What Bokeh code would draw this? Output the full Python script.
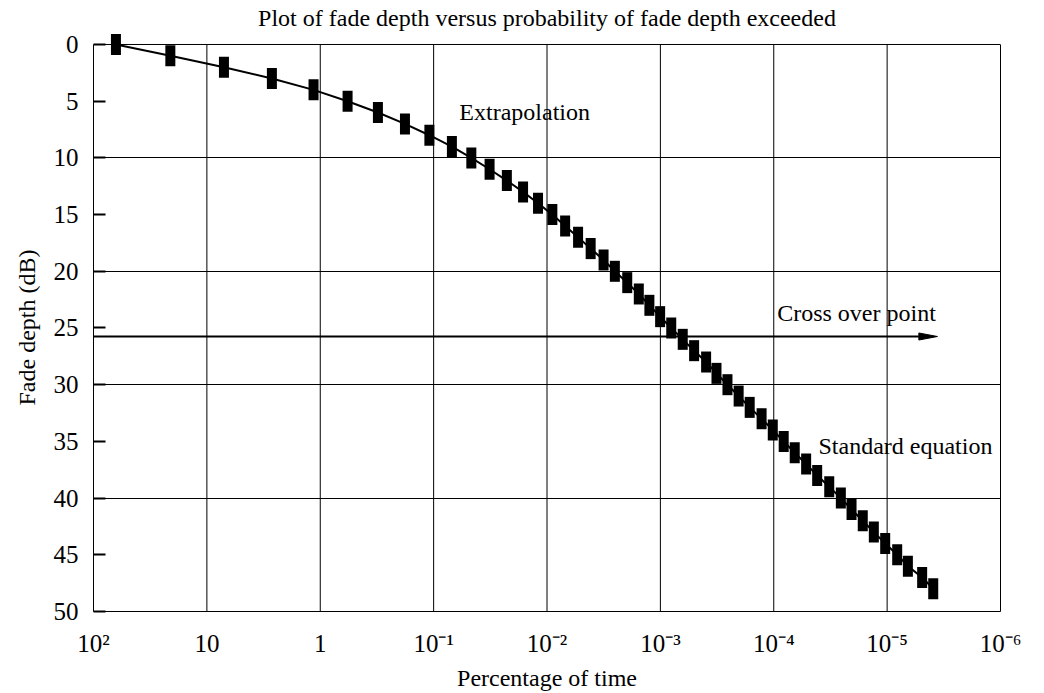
from bokeh.plotting import figure
from bokeh.models import Range1d, FixedTicker, LinearAxis, Span, Label, Title
from bokeh.embed import file_html
from bokeh.resources import INLINE

# ---- data ----
FADE_DB = [0, 1, 2, 3, 4, 5, 6, 7, 8, 9,
           10, 11, 12, 13, 14, 15, 16, 17, 18, 19,
           20, 21, 22, 23, 24, 25, 26, 27, 28, 29,
           30, 31, 32, 33, 34, 35, 36, 37, 38, 39,
           40, 41, 42, 43, 44, 45, 46, 47, 48]
PCT_EXCEEDED = [63.4, 21.0, 7.07, 2.67, 1.146, 0.574, 0.310, 0.179, 0.109, 0.0690,
                0.0465, 0.0321, 0.0226, 0.01626, 0.0120, 0.00897, 0.00692, 0.00532, 0.00412, 0.00317,
                0.00252, 0.00196, 0.00155, 0.00125, 0.001005, 8.02e-4, 6.35e-4, 5.04e-4, 3.95e-4, 3.20e-4,
                2.56e-4, 2.04e-4, 1.63e-4, 1.28e-4, 1.02e-4, 8.17e-5, 6.53e-5, 5.18e-5, 4.14e-5, 3.24e-5,
                2.56e-5, 2.06e-5, 1.64e-5, 1.31e-5, 1.04e-5, 8.15e-6, 6.56e-6, 4.91e-6, 3.92e-6]

X_TICKS = [1e2, 1e1, 1e0, 1e-1, 1e-2, 1e-3, 1e-4, 1e-5, 1e-6]
X_TICK_LABELS = ["10²", "10", "1", "10⁻¹", "10⁻²", "10⁻³", "10⁻⁴", "10⁻⁵", "10⁻⁶"]
Y_TICKS = [0, 5, 10, 15, 20, 25, 30, 35, 40, 45, 50]
Y_GRID = [10, 20, 30, 40]
Y_MIN, Y_MAX = 0, 50
Y_TOP = -3.88   # extra room above 0 dB (title + marker overhang)

TITLE = "Plot of fade depth versus probability of fade depth exceeded"
TITLE_POS = (1e-2, -2.35)
Y_LABEL = "Fade depth (dB)"
X_LABEL = "Percentage of time"
CROSSOVER_DB = 25.75
ARROW_HEAD_BASE = 5.25e-6
ARROW_TIP = 3.6e-6
ARROW_HALF_WIDTH = 0.31
NOTES = [("Extrapolation", 0.0593, 5.95),
         ("Cross over point", 9.33e-5, 23.68),
         ("Standard equation", 4.03e-5, 35.41)]

FONT = "Liberation Serif"

p = figure(width=1044, height=693, x_axis_type="log",
           x_range=Range1d(X_TICKS[0], X_TICKS[-1]),
           y_range=Range1d(Y_MAX, Y_TOP),
           output_backend="svg", toolbar_location=None,
           min_border_left=93, min_border_right=44,
           min_border_top=0, min_border_bottom=82)
p.outline_line_color = None
p.background_fill_color = "white"
p.border_fill_color = "white"

# x axis
xa = p.xaxis[0]
xa.ticker = FixedTicker(ticks=X_TICKS)
xa.major_label_overrides = dict(zip(X_TICKS, X_TICK_LABELS))
xa.major_tick_in = 0
xa.major_tick_out = 0
xa.minor_tick_line_color = None
xa.axis_line_color = "black"
xa.axis_line_width = 1
xa.major_label_standoff = 18
xa.major_label_text_font = FONT
xa.major_label_text_font_size = "25px"
xa.major_label_text_color = "black"
xa.axis_label = X_LABEL
xa.axis_label_standoff = 5
xa.axis_label_text_font = FONT
xa.axis_label_text_font_size = "24px"
xa.axis_label_text_font_style = "normal"
xa.axis_label_text_color = "black"

# y axis
ya = p.yaxis[0]
ya.ticker = FixedTicker(ticks=Y_TICKS)
ya.bounds = (Y_MIN, Y_MAX)
ya.major_tick_in = 12
ya.major_tick_out = 0
ya.major_tick_line_width = 2
ya.major_tick_line_color = "black"
ya.minor_tick_line_color = None
ya.axis_line_color = "black"
ya.axis_line_width = 1
ya.major_label_standoff = 15
ya.major_label_text_font = FONT
ya.major_label_text_font_size = "25px"
ya.major_label_text_color = "black"

# y axis label as a left-side title, centred on the 0..50 dB span
p.add_layout(Title(text=Y_LABEL, align="left", offset=206, standoff=22,
                   text_font=FONT, text_font_size="24px", text_font_style="normal",
                   text_color="black"), "left")

# right border as a bare axis
ra = LinearAxis(ticker=FixedTicker(ticks=[]), bounds=(Y_MIN, Y_MAX),
                major_tick_in=0, major_tick_out=0, major_label_standoff=0,
                minor_tick_line_color=None, axis_line_color="black", axis_line_width=1,
                major_label_text_font_size="0px")
p.add_layout(ra, "right")

# top border
p.add_layout(Span(location=Y_MIN, dimension="width", line_color="black", line_width=1))

# grids
p.xgrid.visible = False
p.ygrid.ticker = FixedTicker(ticks=Y_GRID)
p.ygrid.grid_line_color = "black"
p.ygrid.grid_line_width = 1
inner = X_TICKS[1:-1]
p.segment(x0=inner, y0=[Y_MIN] * len(inner), x1=inner, y1=[Y_MAX] * len(inner),
          line_color="black", line_width=1)

# crossover arrow
p.segment(x0=[X_TICKS[0]], y0=[CROSSOVER_DB], x1=[ARROW_HEAD_BASE], y1=[CROSSOVER_DB],
          line_color="black", line_width=2)
p.patch(x=[ARROW_HEAD_BASE, ARROW_TIP, ARROW_HEAD_BASE],
        y=[CROSSOVER_DB - ARROW_HALF_WIDTH, CROSSOVER_DB, CROSSOVER_DB + ARROW_HALF_WIDTH],
        fill_color="black", line_color="black", line_width=1)

# data
p.line(PCT_EXCEEDED, FADE_DB, line_color="black", line_width=2)
p.rect(x=PCT_EXCEEDED, y=FADE_DB, width=10, height=21,
       width_units="screen", height_units="screen",
       fill_color="black", line_color=None)

# texts
for txt, xv, yv in NOTES:
    p.add_layout(Label(x=xv, y=yv, text=txt, text_font=FONT, text_font_size="24px",
                       text_color="black", text_align="left", text_baseline="alphabetic"))
p.add_layout(Label(x=TITLE_POS[0], y=TITLE_POS[1], text=TITLE, text_font=FONT,
                   text_font_size="24px", text_color="black",
                   text_align="center", text_baseline="alphabetic"))

open("out.html", "w").write(file_html(p, INLINE))
